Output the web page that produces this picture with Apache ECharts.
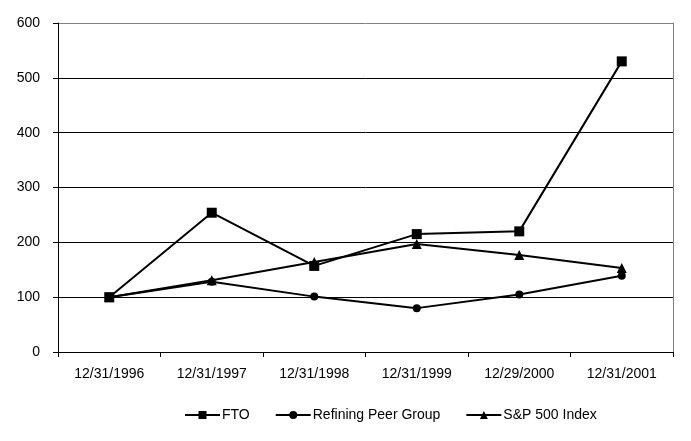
<!DOCTYPE html>
<html><head><meta charset="utf-8">
<script src="https://cdn.jsdelivr.net/npm/echarts@6/dist/echarts.min.js"></script>
<style>html,body{margin:0;padding:0;background:#fff}#c{width:691px;height:441px}</style>
</head><body><div id="c"></div>
<script>
var categories = ['12/31/1996','12/31/1997','12/31/1998','12/31/1999','12/29/2000','12/31/2001'];
var fto = [100, 254, 157, 215, 220, 530];
var peer = [100, 128, 101, 80, 105, 139];
var sp500 = [100, 131, 164, 197, 177, 153];
var seriesNames = ['FTO', 'Refining Peer Group', 'S&P 500 Index'];

var font = 'Liberation Sans, Arial, sans-serif';
var chart = echarts.init(document.getElementById('c'), null, {renderer: 'canvas'});
function mk(name, data, symbol, size) {
  return {
    name: name, type: 'line', data: data, symbol: symbol, symbolSize: size,
    lineStyle: {color: '#000', width: 2}, itemStyle: {color: '#000'},
    animation: false
  };
}
chart.setOption({
  animation: false,
  grid: {left: 58, right: 18, top: 23, bottom: 89},
  legend: {
    top: 403, left: 179, itemGap: 25, itemWidth: 35, itemHeight: 10,
    textStyle: {fontFamily: font, fontSize: 14, color: '#000', padding: [0, 0, 0, -3]},
    data: seriesNames
  },
  xAxis: {
    type: 'category', data: categories, boundaryGap: true,
    axisLine: {lineStyle: {color: '#000', width: 1}},
    axisTick: {show: true, length: 5, lineStyle: {color: '#000'}},
    axisLabel: {fontFamily: font, fontSize: 14, color: '#000', margin: 15},
    splitLine: {show: false}
  },
  yAxis: [{
    type: 'value', min: 0, max: 600, interval: 100,
    axisLine: {show: true, lineStyle: {color: '#000', width: 1}},
    axisTick: {show: true, length: 5, lineStyle: {color: '#000'}},
    axisLabel: {fontFamily: font, fontSize: 14, color: '#000', margin: 18},
    splitLine: {show: true, lineStyle: {color: ['#000','#000','#000','#000','#000','#000','#808080'], width: 1}}
  }, {
    type: 'value', min: 0, max: 600, interval: 100, position: 'right',
    axisLine: {show: true, lineStyle: {color: '#808080', width: 1}},
    axisTick: {show: false}, axisLabel: {show: false}, splitLine: {show: false}
  }],
  series: [
    mk(seriesNames[0], fto, 'rect', 10),
    mk(seriesNames[1], peer, 'circle', 8),
    mk(seriesNames[2], sp500, 'triangle', 10)
  ]
});
</script></body></html>
